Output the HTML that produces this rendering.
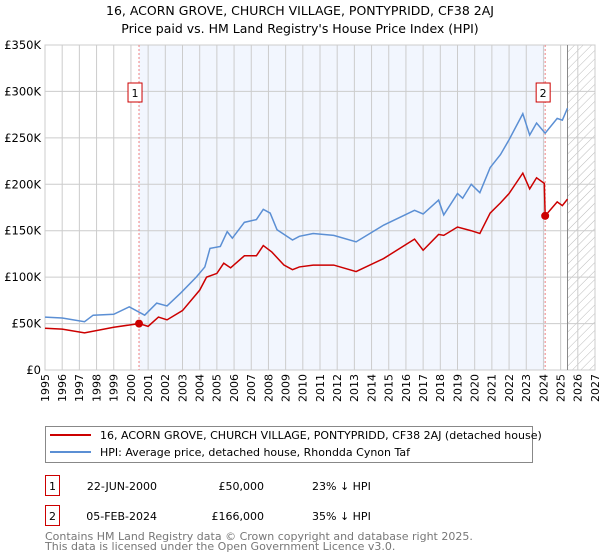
<!DOCTYPE html>
<html><head><meta charset="utf-8"><style>
body{margin:0;background:#fff;font-family:"DejaVu Sans","Liberation Sans",sans-serif;}
svg{display:block}
</style></head><body>
<svg width="600" height="560" xmlns="http://www.w3.org/2000/svg" id="chart" font-family="DejaVu Sans, Liberation Sans, sans-serif">
<defs><pattern id="hatch" width="6" height="6" patternUnits="userSpaceOnUse" patternTransform="rotate(45)"><line x1="0" y1="0" x2="0" y2="6" stroke="#bbb" stroke-width="1"/></pattern></defs>
<text x="300" y="15" text-anchor="middle" font-size="12.5">16, ACORN GROVE, CHURCH VILLAGE, PONTYPRIDD, CF38 2AJ</text>
<text x="300" y="33" text-anchor="middle" font-size="12.5">Price paid vs. HM Land Registry's House Price Index (HPI)</text>
<g id="plot"></g>
<g>
<rect x="45.5" y="426.5" width="487" height="36" fill="#fff" stroke="#888"/>
<line x1="50" y1="435" x2="91" y2="435" stroke="#cc0000" stroke-width="2"/>
<text x="100" y="439" font-size="11">16, ACORN GROVE, CHURCH VILLAGE, PONTYPRIDD, CF38 2AJ (detached house)</text>
<line x1="50" y1="452" x2="91" y2="452" stroke="#5b8fd4" stroke-width="2"/>
<text x="100" y="456" font-size="11">HPI: Average price, detached house, Rhondda Cynon Taf</text>
</g>
<g font-size="11">
<rect x="45.5" y="475.5" width="14" height="20" fill="#fff" stroke="#cc0000"/>
<text x="52.5" y="490" text-anchor="middle">1</text>
<text x="157" y="490" text-anchor="end">22-JUN-2000</text>
<text x="264" y="490" text-anchor="end">£50,000</text>
<text x="312" y="490">23% ↓ HPI</text>
<rect x="45.5" y="505.5" width="14" height="20" fill="#fff" stroke="#cc0000"/>
<text x="52.5" y="520" text-anchor="middle">2</text>
<text x="157" y="520" text-anchor="end">05-FEB-2024</text>
<text x="264" y="520" text-anchor="end">£166,000</text>
<text x="312" y="520">35% ↓ HPI</text>
</g>
<text x="45" y="540" font-size="11" fill="#777">Contains HM Land Registry data © Crown copyright and database right 2025.</text>
<text x="45" y="550" font-size="11" fill="#777">This data is licensed under the Open Government Licence v3.0.</text>
</svg>
<script>
const hpiYears=[1995,1996,1997.3,1997.8,1999,1999.9,2000.8,2001.5,2002.1,2002.9,2003.8,2004.3,2004.6,2005.2,2005.6,2005.9,2006.6,2007.3,2007.7,2008.1,2008.5,2009.4,2009.8,2010.6,2011.8,2013.1,2014.7,2016.5,2017,2017.9,2018.2,2019,2019.3,2019.8,2020.3,2020.9,2021.5,2022,2022.8,2023.2,2023.6,2024.1,2024.8,2025.1,2025.4];
const hpiValues=[57,56,52,59,60,68,59,72,69,83,100,111,131,133,149,142,159,162,173,169,151,140,144,147,145,138,156,172,168,183,167,190,185,200,191,218,232,248,276,253,266,255,271,269,282];
const ppYears=[1995,1996,1997.3,1999,2000.47,2001,2001.6,2002.1,2003,2004,2004.4,2005,2005.4,2005.8,2006.6,2007.3,2007.7,2008.2,2008.9,2009.4,2009.8,2010.6,2011.8,2013.1,2014.7,2016.5,2017,2017.9,2018.2,2019,2019.8,2020.3,2020.9,2021.5,2022,2022.8,2023.2,2023.6,2024.05,2024.1,2024.8,2025.1,2025.4];
const ppValues=[45,44,40,46,50,47,57,54,64,86,100,104,115,110,123,123,134,127,113,108,111,113,113,106,120,141,129,146,145,154,150,147,169,180,190,212,195,207,201,166,181,177,184];
const saleYears=[2000.47,2024.1];
const saleValues=[50,166];
const saleLabels=["1","2"];
const yTicks=[0,50,100,150,200,250,300,350];
const yTickLabels=["£0","£50K","£100K","£150K","£200K","£250K","£300K","£350K"];
const xTicks=[1995,1996,1997,1998,1999,2000,2001,2002,2003,2004,2005,2006,2007,2008,2009,2010,2011,2012,2013,2014,2015,2016,2017,2018,2019,2020,2021,2022,2023,2024,2025,2026,2027];
const dataEnd=2025.4;

const X0=45,X1=595,Y0=370,Y1=45;
const xs=y=>X0+(y-1995)/(2027-1995)*(X1-X0);
const ys=v=>Y0-v/350*(Y0-Y1);
const NS="http://www.w3.org/2000/svg";
const g=document.getElementById('plot');
function mk(t,a){const e=document.createElementNS(NS,t);for(const k in a)e.setAttribute(k,a[k]);g.appendChild(e);return e;}

const shade=mk('rect',{x:xs(saleYears[0]),y:Y1,width:xs(saleYears[1])-xs(saleYears[0]),height:Y0-Y1,fill:'#f2f6fe'});


const hat=mk('rect',{x:xs(dataEnd),y:Y1,width:X1-xs(dataEnd),height:Y0-Y1,fill:'url(#hatch)'});



xTicks.forEach(t=>{
  const l=mk('line',{x1:xs(t),x2:xs(t),y1:Y1,y2:Y0,stroke:'#ccc','stroke-width':1});
  
  
  const tx=mk('text',{x:xs(t),y:Y0+4,'font-size':11,'text-anchor':'end',transform:`rotate(-90 ${xs(t)} ${Y0+4})`,dy:'0.35em'});
  tx.textContent=t;
  
  
});
yTicks.forEach((t,i)=>{
  const l=mk('line',{x1:X0,x2:X1,y1:ys(t),y2:ys(t),stroke:'#ccc','stroke-width':1});
  
  
  const tx=mk('text',{x:X0-4,y:ys(t)+4,'font-size':11.5,'text-anchor':'end'});
  tx.textContent=yTickLabels[i];
  
  
});
const border=mk('rect',{x:X0,y:Y1,width:X1-X0,height:Y0-Y1,fill:'none',stroke:'#ccc'});


const endLine=mk('line',{x1:xs(dataEnd),x2:xs(dataEnd),y1:Y1,y2:Y0,stroke:'#888','stroke-width':1});



saleYears.forEach((s,i)=>{
  const l=mk('line',{x1:xs(s),x2:xs(s),y1:Y1,y2:Y0,stroke:'#f08080','stroke-dasharray':'2,2','stroke-width':1});
  
  
});

const hp=mk('polyline',{points:hpiYears.map((y,i)=>xs(y)+','+ys(hpiValues[i])).join(' '),fill:'none',stroke:'#5b8fd4','stroke-width':1.5});


const pp=mk('polyline',{points:ppYears.map((y,i)=>xs(y)+','+ys(ppValues[i])).join(' '),fill:'none',stroke:'#cc0000','stroke-width':1.5});



saleYears.forEach((s,i)=>{
  const c=mk('circle',{cx:xs(s),cy:ys(saleValues[i]),r:4,fill:'#cc0000'});
  
  
  const bx=xs(s)-7-(i==0?4:2);
  const r=mk('rect',{x:bx,y:83,width:14,height:19,fill:'#fff',stroke:'#cc0000'});
  
  
  const t=mk('text',{x:bx+7,y:97,'font-size':11,'text-anchor':'middle'});
  t.textContent=saleLabels[i];
  
  
});
</script>
</body></html>
